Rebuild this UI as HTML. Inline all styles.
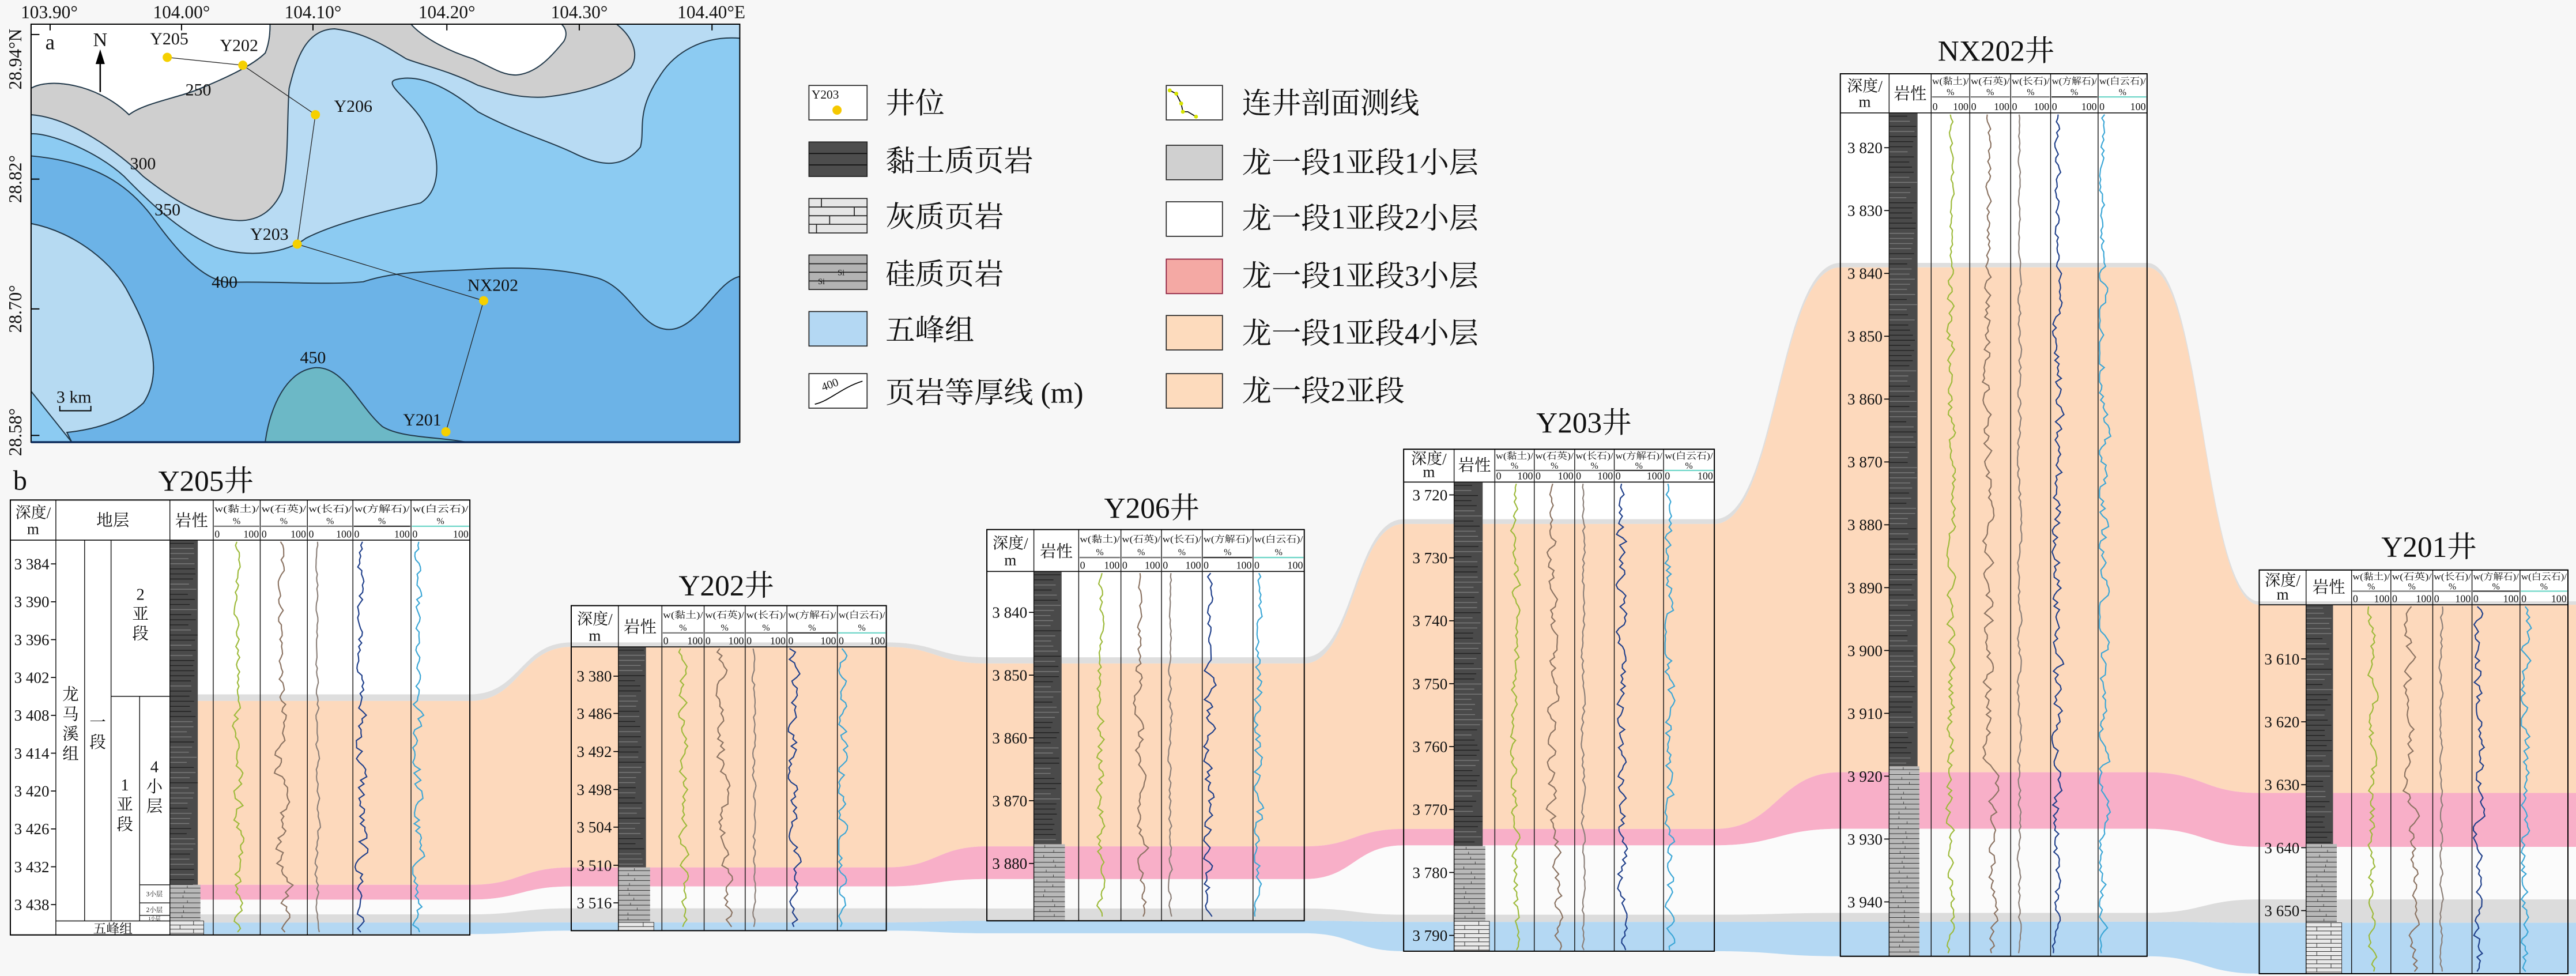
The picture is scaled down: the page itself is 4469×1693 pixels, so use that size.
<!DOCTYPE html>
<html><head><meta charset="utf-8">
<style>
html,body{margin:0;padding:0;background:#f7f7f7;}
svg{display:block;}
text{font-family:"Liberation Serif","Noto Serif CJK SC",serif;fill:#111;}
</style></head>
<body>
<svg id="root" xmlns="http://www.w3.org/2000/svg" width="4469" height="1693" viewBox="0 0 1568 594">
<rect x="0" y="0" width="1568" height="594" fill="#f7f7f7"/>
<!-- MAP -->
<defs><clipPath id="mc"><rect x="65" y="82" width="1483" height="1421"/></clipPath></defs>
<g transform="scale(0.2909,0.17902)">
<g clip-path="url(#mc)" stroke="#22394a" stroke-width="2" vector-effect="non-scaling-stroke">
<rect x="65" y="82" width="1483" height="1421" fill="#8ccbf2" stroke="none"/>
<path vector-effect="non-scaling-stroke" fill="#6cb3e7" d="M1548,940 C1500,955 1460,1120 1400,1120 C1340,1120 1320,980 1250,945 C1180,915 1100,905 1000,915 C900,925 830,920 760,958 C690,970 560,955 480,960 C420,955 360,830 320,740 C270,630 200,550 65,530 L65,760 C160,790 240,900 270,1000 C310,1120 345,1260 300,1370 C260,1430 200,1460 140,1470 L150,1503 L1548,1503 Z"/>
<path vector-effect="non-scaling-stroke" fill="#b6daf2" d="M65,760 C160,790 240,900 270,1000 C310,1120 345,1260 300,1370 C260,1430 200,1460 140,1470 L150,1503 L65,1503 Z"/>
<path vector-effect="non-scaling-stroke" fill="#8ccbf2" d="M65,1330 L150,1503 L65,1503 Z"/>
<path vector-effect="non-scaling-stroke" fill="#6cb8c6" d="M555,1503 C565,1380 600,1260 660,1250 C720,1245 750,1380 800,1450 C840,1490 920,1485 975,1503 Z"/>
<path vector-effect="non-scaling-stroke" fill="#b8dbf3" d="M65,455 C100,450 200,510 260,600 C320,700 380,790 450,840 C520,880 600,860 640,810 C700,760 800,720 880,690 C930,640 920,500 880,400 C850,330 800,280 830,270 C880,250 940,300 1000,380 C1080,450 1150,480 1200,520 C1250,560 1300,580 1340,500 C1350,440 1330,380 1380,260 C1410,180 1470,120 1548,130 L1548,82 L65,82 Z"/>
<path vector-effect="non-scaling-stroke" fill="#cfcfcf" d="M65,300 C100,265 200,280 270,390 C300,350 380,330 420,300 C480,260 530,220 555,180 C565,140 565,100 565,82 L1290,82 C1320,120 1340,180 1320,230 C1280,290 1200,320 1140,330 C1080,335 1040,310 1000,290 C940,240 880,220 850,200 C800,150 760,110 700,98 C640,100 620,200 605,300 C600,400 605,550 590,650 C570,720 540,750 500,750 C430,745 370,690 300,600 C250,520 150,400 65,390 Z"/>
<path vector-effect="non-scaling-stroke" fill="#ffffff" d="M65,82 L565,82 C565,100 565,140 555,180 C530,220 480,260 420,300 C380,330 300,350 270,390 C200,280 100,265 65,300 Z"/>
<path vector-effect="non-scaling-stroke" fill="#ffffff" d="M860,82 C880,120 930,170 990,200 C1030,230 1050,255 1080,255 C1120,250 1150,200 1180,140 C1190,110 1180,90 1175,82 Z"/>
</g>
</g>
<g stroke="#222" stroke-width="0.45" fill="none">
<polyline points="101.8,34.9 147.8,39.7 192,69.8 180.9,148.6 294.4,183 271.4,262.8"/>
</g>
<g fill="#f5d000">
<circle cx="101.8" cy="34.9" r="2.8"/><circle cx="147.8" cy="39.7" r="2.8"/><circle cx="192" cy="69.8" r="2.8"/><circle cx="180.9" cy="148.6" r="2.8"/><circle cx="294.4" cy="183" r="2.8"/><circle cx="271.4" cy="262.8" r="2.8"/>
</g>
<rect x="18.9" y="14.7" width="431.4" height="254.4" fill="none" stroke="#000" stroke-width="0.7"/>
<line x1="18.9" y1="269.1" x2="450.3" y2="269.1" stroke="#0b2a5a" stroke-width="1.2"/>
<g stroke="#000" stroke-width="0.7">
<line x1="30.5" y1="14.7" x2="30.5" y2="18.5"/><line x1="110.5" y1="14.7" x2="110.5" y2="18.5"/><line x1="190.5" y1="14.7" x2="190.5" y2="18.5"/><line x1="272" y1="14.7" x2="272" y2="18.5"/><line x1="352.6" y1="14.7" x2="352.6" y2="18.5"/><line x1="433.4" y1="14.7" x2="433.4" y2="18.5"/>
<line x1="18.9" y1="21" x2="24" y2="21"/><line x1="18.9" y1="109" x2="24" y2="109"/><line x1="18.9" y1="188" x2="24" y2="188"/><line x1="18.9" y1="265" x2="24" y2="265"/>
</g>
<g font-size="11" text-anchor="middle">
<text x="30" y="11">103.90°</text><text x="110.5" y="11">104.00°</text><text x="190.5" y="11">104.10°</text><text x="272" y="11">104.20°</text><text x="352.6" y="11">104.30°</text><text x="433" y="11">104.40°E</text>
<text transform="translate(13,36) rotate(-90)">28.94°N</text>
<text transform="translate(13,109) rotate(-90)">28.82°</text>
<text transform="translate(13,188) rotate(-90)">28.70°</text>
<text transform="translate(13,263) rotate(-90)">28.58°</text>
</g>
<g font-size="10.5" text-anchor="middle">
<text x="103" y="27">Y205</text><text x="145.5" y="31">Y202</text><text x="215" y="68">Y206</text><text x="164" y="146">Y203</text><text x="300" y="177">NX202</text><text x="257" y="259">Y201</text>
<text x="120.7" y="58">250</text><text x="87" y="103">300</text><text x="102" y="131">350</text><text x="136.7" y="175">400</text><text x="190.5" y="221">450</text>
<text x="45" y="245">3 km</text>
</g>
<text x="27.6" y="30" font-size="13">a</text>
<text x="61" y="28" font-size="12" text-anchor="middle">N</text>
<line x1="61" y1="36" x2="61" y2="56" stroke="#000" stroke-width="0.9"/>
<polygon points="61,30 58.2,39 63.8,39" fill="#000"/>
<polyline points="36.4,247 36.4,250 55.3,250 55.3,247" fill="none" stroke="#000" stroke-width="0.7"/>

<!-- LEGEND -->
<g stroke="#222" stroke-width="0.6">
<rect x="492.4" y="52" width="35.4" height="21" fill="#fff"/>
<rect x="492.4" y="86.4" width="35.4" height="21" fill="#4d4d4d"/>
<line x1="492.4" y1="93.4" x2="527.8" y2="93.4" stroke="#111"/><line x1="492.4" y1="100.4" x2="527.8" y2="100.4" stroke="#111"/>
<rect x="492.4" y="120.8" width="35.4" height="21" fill="#e6e6e6"/>
<line x1="492.4" y1="126" x2="527.8" y2="126"/><line x1="492.4" y1="131.3" x2="527.8" y2="131.3"/><line x1="492.4" y1="136.5" x2="527.8" y2="136.5"/>
<line x1="500" y1="120.8" x2="500" y2="126"/><line x1="520" y1="126" x2="520" y2="131.3"/><line x1="505" y1="131.3" x2="505" y2="136.5"/><line x1="497" y1="136.5" x2="497" y2="141.8"/>
<rect x="492.4" y="155.2" width="35.4" height="21" fill="#b3b3b3"/>
<line x1="492.4" y1="160.5" x2="527.8" y2="160.5"/><line x1="492.4" y1="165.7" x2="527.8" y2="165.7"/><line x1="492.4" y1="171" x2="527.8" y2="171"/>
<rect x="492.4" y="189.6" width="35.4" height="21" fill="#b4d8f3"/>
<rect x="492.4" y="227.4" width="35.4" height="21" fill="#fff"/>
<rect x="709.9" y="52" width="34.2" height="21" fill="#fff"/>
<rect x="709.9" y="88.4" width="34.2" height="21" fill="#d0d0d0"/>
<rect x="709.9" y="122.8" width="34.2" height="21" fill="#fff"/>
<rect x="709.9" y="157.7" width="34.2" height="21" fill="#f4a9a4" stroke="#8a1a3a"/>
<rect x="709.9" y="192" width="34.2" height="21" fill="#fddbbd"/>
<rect x="709.9" y="227.4" width="34.2" height="21" fill="#fddbbd"/>
</g>
<text x="494" y="60" font-size="7.5">Y203</text>
<circle cx="509.5" cy="67" r="2.8" fill="#f5c800"/>
<text x="512" y="167.5" font-size="5" text-anchor="middle">Si</text>
<text x="500" y="173" font-size="5" text-anchor="middle">Si</text>
<text x="501" y="238" font-size="7" transform="rotate(-20 501 238)">400</text>
<path d="M496,246 C505,244 512,236 525,232" fill="none" stroke="#000" stroke-width="0.6"/>
<polyline points="712,55 716,57 719,63 720,68 723,68 728,71" fill="none" stroke="#000" stroke-width="0.6"/>
<g fill="#d7e400"><circle cx="712" cy="55" r="1.2"/><circle cx="716" cy="57" r="1.2"/><circle cx="719" cy="63" r="1.2"/><circle cx="720" cy="68" r="1.2"/><circle cx="728" cy="71" r="1.2"/></g>
<g font-size="18">
<text x="539" y="69">井位</text>
<text x="539" y="104">黏土质页岩</text>
<text x="539" y="138">灰质页岩</text>
<text x="539" y="173">硅质页岩</text>
<text x="539" y="207">五峰组</text>
<text x="539" y="245">页岩等厚线 (m)</text>
<text x="756" y="69">连井剖面测线</text>
<text x="756" y="105">龙一段1亚段1小层</text>
<text x="756" y="139">龙一段1亚段2小层</text>
<text x="756" y="174">龙一段1亚段3小层</text>
<text x="756" y="209">龙一段1亚段4小层</text>
<text x="756" y="244">龙一段2亚段</text>
</g>
<text x="8" y="298" font-size="17">b</text>
<g id="wells"></g>
</svg>
<script>
(function(){
var NS="http://www.w3.org/2000/svg";
var g=document.getElementById('wells');
var out=[];
function el(s){out.push(s);}
function r(x){return Math.round(x*100)/100;}
function ticks(a,b,step,y0,dy){var t=[];for(var i=0;a+i*step<=b;i++){var v=a+i*step;var s=String(v);t.push([s[0]+' '+s.slice(1),y0+i*dy]);}return t;}
var W=[
{n:'Y205井',tx:125.3,ty:298.7,cols:[6.3,34,103.4,129.8,158.4,187.1,214.8,250.2,286],ci:3,top:304.3,sp:320.3,hb:328.7,bot:569,ticks:ticks(3384,3438,6,343.2,23.04),lith:{x:103.4,dR:120.4,dB:538.5,sR:122,sB:560.5,lR:124},bands:[422.6,426.6,538.5,547.5,556.5,561.5]},
{n:'Y202井',tx:442.1,ty:362.5,cols:[347.7,376.4,402.9,428.6,453.6,479.0,509.7,539.5],ci:2,top:368.6,sp:385.2,hb:393.7,bot:566.4,ticks:[['3 380',411.5],['3 486',434.2],['3 492',457.4],['3 498',480.5],['3 504',503.4],['3 510',526.6],['3 516',549.5]],lith:{x:376.4,dR:393.2,dB:527.9,sR:395.7,sB:561.4,lR:398},bands:[391,393.7,527.9,539.5,552.8,561.4]},
{n:'Y206井',tx:701.1,ty:315.2,cols:[600.7,629.3,656.6,682.3,707,731.8,762.7,793.9],ci:2,top:322.3,sp:339.3,hb:347.8,bot:560.4,ticks:ticks(3840,3880,10,372.7,38.2),lith:{x:629.3,dR:646.2,dB:513.8,sR:648.2,sB:560.4,lR:648.2},bands:[400,403.8,515.1,535,552.9,560.4]},
{n:'Y203井',tx:964.1,ty:263.4,cols:[854.4,885.1,909.9,933.9,958.5,982.6,1012.6,1043.5],ci:2,top:273.4,sp:286.3,hb:293.4,bot:578.9,ticks:ticks(3720,3790,10,301.2,38.3),lith:{x:885.1,dR:902.5,dB:514.9,sR:904.1,sB:560.7,lR:906.6},bands:[316,318.9,504.5,514.5,556.7,561.1]},
{n:'NX202井',tx:1215,ty:37,cols:[1120.2,1149.9,1175.5,1199,1223.9,1248.2,1277.1,1306.9],ci:2,top:44.9,sp:59,hb:68.7,bot:582,ticks:ticks(3820,3940,10,89.9,38.25),lith:{x:1149.9,dR:1167.2,dB:466.4,sR:1168.3,sB:582,lR:1168.3},bands:[160,162.7,470,504.4,555.6,561]},
{n:'Y201井',tx:1478.5,ty:338.9,cols:[1375.2,1403.7,1431.4,1455.3,1480.8,1504.7,1533.9,1563.1],ci:2,top:346.9,sp:359.8,hb:368.1,bot:592.6,ticks:ticks(3610,3650,10,401,38.3),lith:{x:1403.7,dR:1420.1,dB:513.7,sR:1422.4,sB:561.6,lR:1425.4},bands:[366,368.1,482.6,515.4,547.4,561.6]}
];
var B6=[568.5,566.4,568,578.9,582,592.6];
// table backgrounds
W.forEach(function(w){var c=w.cols;el('<rect x="'+c[0]+'" y="'+w.top+'" width="'+r(c[c.length-1]-c[0])+'" height="'+r(w.bot-w.top)+'" fill="#fff"/>');});
// bands
var X=[[118,286],[347.7,539.5],[600.7,793.9],[854.4,1043.5],[1120.2,1306.9],[1375.2,1568]];
function bv(k){return W.map(function(w,i){return k<6?w.bands[k]:B6[i];});}
function fwd(v){var s='M'+X[0][0]+','+v[0]+' L'+X[0][1]+','+v[0];for(var i=1;i<6;i++){var m=(X[i-1][1]+X[i][0])/2;s+=' C'+m+','+v[i-1]+' '+m+','+v[i]+' '+X[i][0]+','+v[i]+' L'+X[i][1]+','+v[i];}return s;}
function rev(v){var s=' L'+X[5][1]+','+v[5]+' L'+X[5][0]+','+v[5];for(var i=5;i>=1;i--){var m=(X[i-1][1]+X[i][0])/2;s+=' C'+m+','+v[i]+' '+m+','+v[i-1]+' '+X[i-1][1]+','+v[i-1]+' L'+X[i-1][0]+','+v[i-1];}return s+' Z';}
var bc=['#dedede','#fdd9bc','#f8afc8','#fbfbfb','#dcdcdc','#b4d8f3'];
for(var k=0;k<6;k++){el('<path d="'+fwd(bv(k))+rev(bv(k+1))+'" fill="'+bc[k]+'"/>');}
// PRNG
var seed=12345;function rnd(){seed=(seed*1103515245+12345)%2147483648;return seed/2147483648;}
var heads=['w(黏土)/','w(石英)/','w(长石)/','w(方解石)/','w(白云石)/'];
var hcol=['#777','#777','#777','#333','#6fd6c8'];
var ccol=['#9dba3a','#8b7362','#8b7f78','#1f3f8a','#3aa6d6'];
var fb=[0.52,0.45,0.22,0.14,0.1],fa=[0.07,0.08,0.03,0.07,0.07];
W.forEach(function(w,wi){
 var c=w.cols,x0=c[0],x1=c[c.length-1],L=w.lith;
 // lithology
 el('<rect x="'+L.x+'" y="'+w.hb+'" width="'+r(L.dR-L.x)+'" height="'+r(L.dB-w.hb)+'" fill="#4a4a4a"/>');
 for(var y=w.hb+2;y<L.dB;y+=3.1){var len=(L.dR-L.x)*(0.6+0.4*rnd());el('<line x1="'+L.x+'" y1="'+r(y)+'" x2="'+r(L.x+len)+'" y2="'+r(y)+'" stroke="'+(rnd()<0.5?'#222':'#7a7a7a')+'" stroke-width="0.5"/>');}
 el('<rect x="'+L.x+'" y="'+L.dB+'" width="'+r(L.sR-L.x)+'" height="'+r(L.sB-L.dB)+'" fill="#b8b8b8"/>');
 for(var y=L.dB+2;y<L.sB;y+=3){el('<line x1="'+L.x+'" y1="'+r(y)+'" x2="'+L.sR+'" y2="'+r(y)+'" stroke="#333" stroke-width="0.35"/>');
   var xm=L.x+(L.sR-L.x)*(0.3+0.4*rnd());el('<line x1="'+r(xm)+'" y1="'+r(y-1.5)+'" x2="'+r(xm)+'" y2="'+r(y)+'" stroke="#333" stroke-width="0.3"/>');}
 if(L.sB<w.bot){el('<rect x="'+L.x+'" y="'+L.sB+'" width="'+r(L.lR-L.x)+'" height="'+r(w.bot-L.sB)+'" fill="#e8e8e8" stroke="#333" stroke-width="0.35"/>');
   for(var y=L.sB+2.5,j=0;y<w.bot;y+=2.5,j++){el('<line x1="'+L.x+'" y1="'+r(y)+'" x2="'+L.lR+'" y2="'+r(y)+'" stroke="#333" stroke-width="0.35"/>');var xv=L.x+(L.lR-L.x)*(j%2?0.3:0.7);el('<line x1="'+r(xv)+'" y1="'+r(y-2.5)+'" x2="'+r(xv)+'" y2="'+r(y)+'" stroke="#333" stroke-width="0.35"/>');}}
 // curves
 for(var k=0;k<5;k++){var cl=c[w.ci+k],cr=c[w.ci+k+1],cw=cr-cl,v=0,pts=[];
  for(var y=w.hb+1;y<=w.bot-0.5;y+=2.2){var amp=fa[k]*((y>w.bands[1]&&y<w.bands[3])?1.3:0.7);if(y>w.bands[3])amp*=1.6;v=0.55*v+0.45*(rnd()*2-1)*amp*2.2;var f=fb[k]+v;if(k==1&&y>w.bands[2])f+=0.12;if(f<0.03)f=0.03;pts.push(r(cl+cw*f)+','+r(y));}
  el('<polyline points="'+pts.join(' ')+'" fill="none" stroke="'+ccol[k]+'" stroke-width="0.75"/>');}
 // grid
 c.forEach(function(x){el('<line x1="'+x+'" y1="'+w.top+'" x2="'+x+'" y2="'+w.bot+'" stroke="#111" stroke-width="0.5"/>');});
 [w.top,w.hb,w.bot].forEach(function(y){el('<line x1="'+x0+'" y1="'+y+'" x2="'+x1+'" y2="'+y+'" stroke="#111" stroke-width="0.6"/>');});
 el('<rect x="'+x0+'" y="'+w.top+'" width="'+r(x1-x0)+'" height="'+r(w.bot-w.top)+'" fill="none" stroke="#000" stroke-width="0.7"/>');
 // headers
 var hh=w.hb-w.top;
 el('<text x="'+r((c[0]+c[1])/2)+'" y="'+r(w.top+hh*0.45)+'" font-size="9.5" text-anchor="middle">深度/</text>');
 el('<text x="'+r((c[0]+c[1])/2)+'" y="'+r(w.top+hh*0.85)+'" font-size="9.5" text-anchor="middle">m</text>');
 var li=w.ci-1;
 el('<text x="'+r((c[li]+c[li+1])/2)+'" y="'+r(w.top+hh*0.65)+'" font-size="10" text-anchor="middle">岩性</text>');
 for(var k=0;k<5;k++){var cl=c[w.ci+k],cr=c[w.ci+k+1],cm=(cl+cr)/2;
  el('<text x="'+r(cm)+'" y="'+r(w.top+(w.sp-w.top)*0.45)+'" font-size="5.6" text-anchor="middle" textLength="'+r((cr-cl)*0.95)+'" lengthAdjust="spacingAndGlyphs">'+heads[k]+'</text>');
  el('<text x="'+r(cm)+'" y="'+r(w.top+(w.sp-w.top)*0.92)+'" font-size="5.6" text-anchor="middle">%</text>');
  el('<line x1="'+r(cl+0.5)+'" y1="'+w.sp+'" x2="'+r(cr-0.5)+'" y2="'+w.sp+'" stroke="'+hcol[k]+'" stroke-width="0.8"/>');
  el('<text x="'+r(cl+0.8)+'" y="'+r(w.hb-1.6)+'" font-size="6.3">0</text>');
  el('<text x="'+r(cr-0.8)+'" y="'+r(w.hb-1.6)+'" font-size="6.3" text-anchor="end">100</text>');}
 // ticks
 var dr=c[1];
 w.ticks.forEach(function(t){el('<line x1="'+r(dr-3)+'" y1="'+r(t[1])+'" x2="'+dr+'" y2="'+r(t[1])+'" stroke="#000" stroke-width="0.6"/>');el('<text x="'+r(dr-4)+'" y="'+r(t[1]+3.3)+'" font-size="9.5" text-anchor="end">'+t[0]+'</text>');});
 // title
 el('<text x="'+w.tx+'" y="'+w.ty+'" font-size="18" text-anchor="middle">'+w.n+'</text>');
});
// Y205 stratigraphy
var s='';
function L(a,b,c2,d){s+='<line x1="'+a+'" y1="'+b+'" x2="'+c2+'" y2="'+d+'" stroke="#111" stroke-width="0.5"/>';}
L(51.5,328.7,51.5,560.5);L(67.6,328.7,67.6,560.5);L(67.6,423.8,103.4,423.8);L(85,423.8,85,560.5);
L(85,538.5,103.4,538.5);L(85,549.5,103.4,549.5);L(85,557.1,103.4,557.1);L(34,560.5,103.4,560.5);
el(s);
function vt(txt,x,y0,dy,fs){for(var i=0;i<txt.length;i++){el('<text x="'+x+'" y="'+r(y0+i*dy)+'" font-size="'+fs+'" text-anchor="middle">'+txt[i]+'</text>');}}
el('<text x="68.7" y="320" font-size="10" text-anchor="middle">地层</text>');
vt('龙马溪组',43,426,12,10);vt('一段',59.5,443,12,10);vt('2亚段',85.5,365,12,10);vt('1亚段',76,481,12,10);vt('4小层',94,470,12,10);
el('<text x="94" y="545.5" font-size="4" text-anchor="middle">3小层</text>');
el('<text x="94" y="555" font-size="4" text-anchor="middle">2小层</text>');
el('<text x="94" y="560" font-size="3" text-anchor="middle">1小层</text>');
el('<text x="68.7" y="568" font-size="8" text-anchor="middle">五峰组</text>');
g.innerHTML=out.join('');
})();
</script>
</body></html>
